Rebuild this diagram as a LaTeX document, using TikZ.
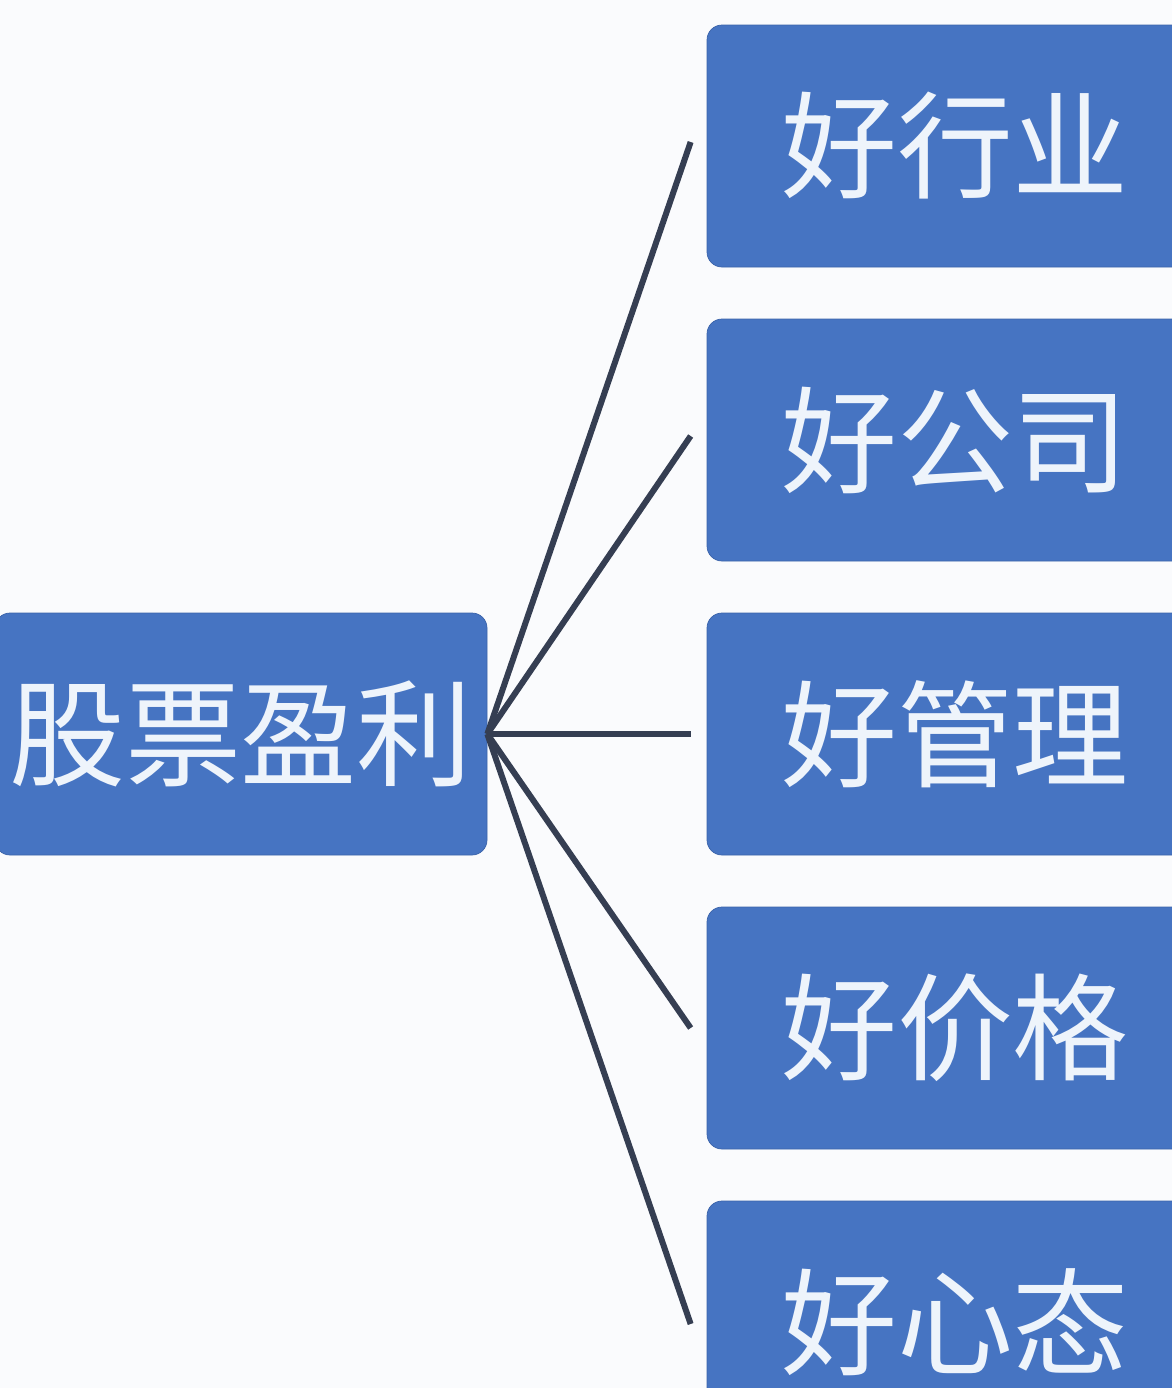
\documentclass[tikz,border=0pt]{standalone}
\usepackage{fontspec}
\newfontfamily\cjk{Noto Sans CJK SC}
\definecolor{boxblue}{HTML}{4674C2}
\definecolor{boxedge}{HTML}{3B64AA}
\definecolor{linkdark}{HTML}{353E52}
\definecolor{textwhite}{HTML}{EEF4FB}
\definecolor{paper}{HTML}{FAFBFD}
\begin{document}
\begin{tikzpicture}[every node/.style={font=\cjk\fontsize{66}{72}\selectfont,text=textwhite},
   blubox/.style={draw=boxedge,fill=boxblue,rounded corners=0.3cm,minimum width=9.92cm,minimum height=4.84cm,inner sep=0pt},
   link/.style={draw=linkdark,line width=0.12cm}]
   \fill [paper] (0,0) rectangle (23.44,-27.76);
   \useasboundingbox (0,0) rectangle (23.44,-27.76);
   \node [blubox,minimum width=9.84cm] (gain) at (4.82,-14.68) {股票盈利};
   \node [blubox] (trade) at (19.1,-2.92) {好行业};
   \node [blubox] (firm) at (19.1,-8.80) {好公司};
   \node [blubox] (manage) at (19.1,-14.68) {好管理};
   \node [blubox] (price) at (19.1,-20.56) {好价格};
   \node [blubox] (mind) at (19.1,-26.44) {好心态};
   \draw [link] (gain.east) -- ([xshift=-0.32cm,yshift=0.08cm]trade.west);
   \draw [link] (gain.east) -- ([xshift=-0.32cm,yshift=0.08cm]firm.west);
   \draw [link] (gain.east) -- ([xshift=-0.32cm]manage.west);
   \draw [link] (gain.east) -- ([xshift=-0.32cm]price.west);
   \draw [link] (gain.east) -- ([xshift=-0.32cm,yshift=-0.04cm]mind.west);
\end{tikzpicture}
\end{document}
